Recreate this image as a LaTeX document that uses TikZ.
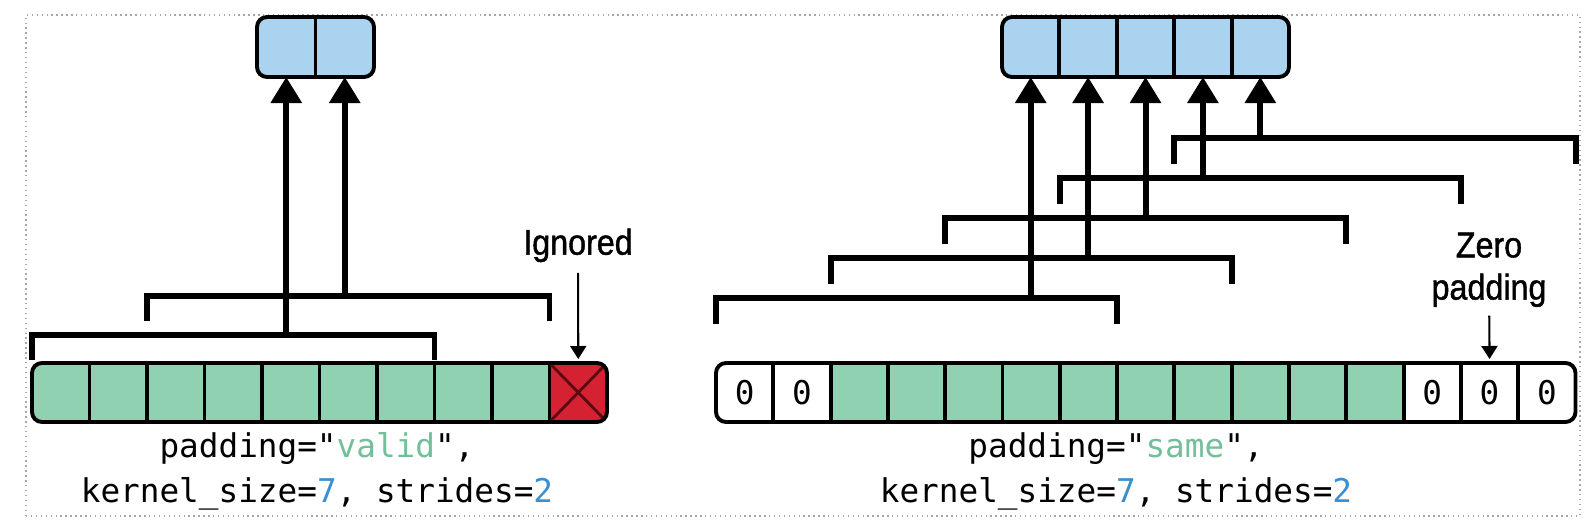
\documentclass[tikz,border=0pt]{standalone}
\usepackage{fontspec}
\setmonofont{DejaVu Sans Mono}
\newfontfamily\notefont[FakeStretch=0.9,FakeBold=1.2]{Liberation Sans}
\usetikzlibrary{arrows.meta,positioning}

\definecolor{cellgreen}{HTML}{8FD1B0}
\definecolor{cellblue}{HTML}{A9D3EE}
\definecolor{cellred}{HTML}{D42232}
\definecolor{crossred}{HTML}{5C0A12}
\definecolor{codegreen}{HTML}{72BF9A}
\definecolor{codeblue}{HTML}{3A8FD0}

\newcommand{\codefont}{\ttfamily\fontsize{9.3}{12}\selectfont}

\tikzset{
  cell/.style={draw, line width=1.1pt, anchor=south west, inner sep=0pt, outer sep=0pt,
    minimum width=0.575cm, minimum height=0.59cm, font=\codefont},
  barframe/.style={draw, line width=1.1pt, rounded corners=0.1cm},
  bracket/.style={line width=1.7pt},
  stem/.style={line width=1.7pt, -{Triangle[length=0.26cm,width=0.30cm]}},
  pointer/.style={line width=0.6pt, -{Triangle[length=0.13cm,width=0.16cm]}},
  code/.style={font=\codefont, anchor=base, inner sep=0pt},
  note/.style={font=\notefont\fontsize{10.2}{12}\selectfont, align=center, anchor=north, inner sep=0pt}
}

\begin{document}
\begin{tikzpicture}[x=1cm,y=1cm]
  \useasboundingbox (0,0) rectangle (15.91,5.19);
  \draw[densely dotted, gray!70, line width=0.4pt] (0.26,0.03) rectangle (15.80,5.04);

  % padding="valid"
  \begin{scope}
    \clip[rounded corners=0.1cm] (0.32,0.97) rectangle (6.07,1.56);
    \foreach \i in {0,...,8}
      \node[cell, fill=cellgreen] (vin\i) at ({0.32+0.575*\i},0.97) {};
    \node[cell, fill=cellred] (vin9) at (5.495,0.97) {};
    \draw[crossred, line width=0.8pt] (vin9.south west) -- (vin9.north east)
      (vin9.north west) -- (vin9.south east);
  \end{scope}
  \draw[barframe] (vin0.south west) rectangle (vin9.north east);

  \begin{scope}
    \clip[rounded corners=0.1cm] (2.57,4.42) rectangle (3.74,5.02);
    \node[cell, fill=cellblue, minimum width=0.585cm, minimum height=0.6cm] (vout0) at (2.57,4.42) {};
    \node[cell, fill=cellblue, minimum width=0.585cm, minimum height=0.6cm] (vout1) at (3.155,4.42) {};
  \end{scope}
  \draw[barframe] (vout0.south west) rectangle (vout1.north east);

  \draw[bracket] (0.32,1.59) |- (4.345,1.84) -- (4.345,1.59);
  \draw[bracket] (1.47,1.98) |- (5.495,2.23) -- (5.495,1.98);
  \coordinate (vk0) at (0,1.84);
  \coordinate (vk1) at (0,2.23);
  \draw[stem] (vout0.south |- vk0) -- (vout0.south);
  \draw[stem] (vout1.south |- vk1) -- (vout1.south);

  \node[note] (ignnote) at (5.78,2.91) {Ignored};
  \draw[pointer, shorten <=0.1cm, shorten >=0.04cm] (ignnote) -- (vin9.north);

  \node[code] (vcode1) at (3.17,0.62) {padding="\textcolor{codegreen}{valid}",};
  \node[code] (vcode2) at (3.17,0.17) {kernel\_size=\textcolor{codeblue}{7}, strides=\textcolor{codeblue}{2}};

  % padding="same"
  \begin{scope}
    \clip[rounded corners=0.1cm] (7.16,0.97) rectangle (15.755,1.56);
    \foreach \i in {0,1,12,13,14}
      \node[cell, fill=white, minimum width=0.573cm] (sin\i) at ({7.16+0.573*\i},0.97) {0};
    \foreach \i in {2,...,11}
      \node[cell, fill=cellgreen, minimum width=0.573cm] (sin\i) at ({7.16+0.573*\i},0.97) {};
  \end{scope}
  \draw[barframe] (sin0.south west) rectangle (sin14.north east);

  \begin{scope}
    \clip[rounded corners=0.1cm] (10.02,4.42) rectangle (12.89,5.02);
    \foreach \i in {0,...,4}
      \node[cell, fill=cellblue, minimum width=0.574cm, minimum height=0.6cm] (sout\i) at ({10.02+0.574*\i},4.42) {};
  \end{scope}
  \draw[barframe] (sout0.south west) rectangle (sout4.north east);

  \foreach \i in {0,...,4} {
    \draw[bracket] ({7.16+1.146*\i},{1.95+0.4*\i}) |- ({11.171+1.146*\i},{2.21+0.4*\i}) -- ++(0,-0.26);
    \coordinate (sk\i) at (0,{2.21+0.4*\i});
    \draw[stem] (sout\i.south |- sk\i) -- (sout\i.south);
  }

  \node[note] (zeronote) at (14.89,2.87) {Zero\\padding};
  \draw[pointer, shorten <=0.08cm, shorten >=0.04cm] (zeronote) -- (sin13.north);

  \node[code] (scode1) at (11.16,0.62) {padding="\textcolor{codegreen}{same}",};
  \node[code] (scode2) at (11.16,0.17) {kernel\_size=\textcolor{codeblue}{7}, strides=\textcolor{codeblue}{2}};
\end{tikzpicture}
\end{document}
